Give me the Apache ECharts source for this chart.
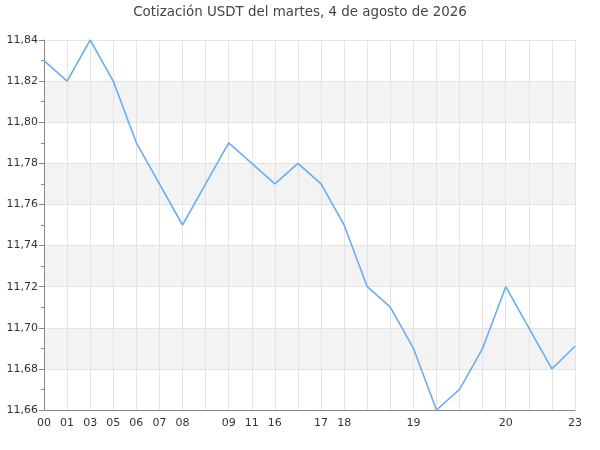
<!DOCTYPE html>
<html>
<head>
<meta charset="utf-8">
<script src="https://cdn.jsdelivr.net/npm/echarts@6/dist/echarts.min.js"></script>
<style>html,body{margin:0;padding:0;background:#fff}#c{width:600px;height:450px}</style>
</head>
<body>
<div id="c"></div>
<script>
var categories = ["00","01","03","05","06","07","08","","09","11","16","","17","18","","","19","","","","20","","","23"];
var values = [11.83,11.82,11.84,11.82,11.79,11.77,11.75,11.77,11.79,11.78,11.77,11.78,11.77,11.75,11.72,11.71,11.69,11.66,11.67,11.69,11.72,11.70,11.68,11.691];
var yTicks = {min: 11.66, max: 11.84, interval: 0.02};
var titleText = "Cotización USDT del martes, 4 de agosto de 2026";

var chart = echarts.init(document.getElementById('c'), null, {renderer: 'canvas'});
chart.setOption({
  animation: false,
  backgroundColor: '#fff',
  textStyle: {fontFamily: 'DejaVu Sans'},
  title: {
    text: titleText, left: 'center', top: 1,
    textStyle: {fontSize: 13.4, fontWeight: 'normal', color: '#444', fontFamily: 'DejaVu Sans'}
  },
  grid: {left: 44, right: 25, top: 40, bottom: 40},
  xAxis: {
    type: 'category', data: categories, boundaryGap: false,
    axisLine: {lineStyle: {color: '#888'}},
    axisTick: {show: false},
    axisLabel: {interval: 0, color: '#333', fontSize: 11, margin: 8},
    splitLine: {show: true, lineStyle: {color: '#e3e3e3'}}
  },
  yAxis: {
    type: 'value', min: yTicks.min, max: yTicks.max, interval: yTicks.interval,
    axisLine: {show: true, lineStyle: {color: '#888'}},
    axisTick: {show: true, length: 5, lineStyle: {color: '#888'}},
    minorTick: {show: true, splitNumber: 2, length: 3, lineStyle: {color: '#888'}},
    axisLabel: {color: '#333', fontSize: 11, margin: 6,
      formatter: function (v) { return v.toFixed(2).replace('.', ','); }},
    splitLine: {show: true, lineStyle: {color: '#e3e3e3'}},
    splitArea: {show: true, areaStyle: {color: ['#ffffff', '#f3f3f3']}}
  },
  series: [{
    type: 'line', data: values, showSymbol: false, symbol: 'none',
    lineStyle: {color: '#6aaef2', width: 1.6}
  }]
});
</script>
</body>
</html>
